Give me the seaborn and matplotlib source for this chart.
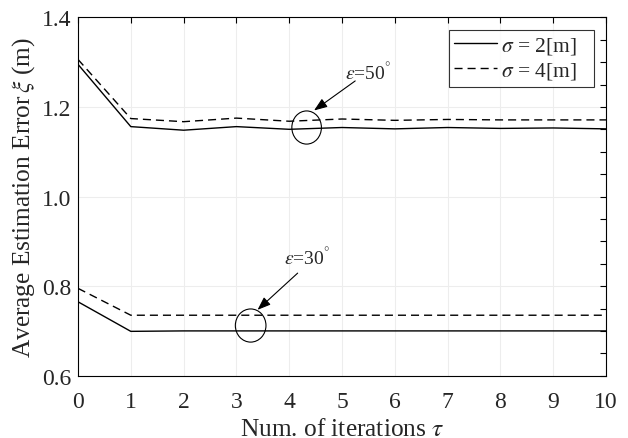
import matplotlib
matplotlib.use("Agg")
import matplotlib.pyplot as plt
from matplotlib.patches import Ellipse
from matplotlib.ticker import MultipleLocator
import numpy as np
import pandas as pd
import seaborn as sns

# Iteration index
iterations = [0, 1, 2, 3, 4, 5, 6, 7, 8, 9, 10]

# Average estimation error, epsilon = 50 deg
err_eps50_sigma2 = [1.295, 1.156, 1.148, 1.156, 1.150, 1.154, 1.151, 1.154, 1.152, 1.153, 1.151]
err_eps50_sigma4 = [1.306, 1.174, 1.167, 1.175, 1.168, 1.173, 1.170, 1.172, 1.171, 1.171, 1.171]

# Average estimation error, epsilon = 30 deg
err_eps30_sigma2 = [0.765, 0.699, 0.700, 0.700, 0.700, 0.700, 0.700, 0.700, 0.700, 0.700, 0.700]
err_eps30_sigma4 = [0.795, 0.735, 0.735, 0.735, 0.735, 0.735, 0.735, 0.735, 0.735, 0.735, 0.735]

sigma_labels = [r"$\sigma$ = 2[m]", r"$\sigma$ = 4[m]"]
x_ticks = [0, 1, 2, 3, 4, 5, 6, 7, 8, 9, 10]
y_ticks = [0.6, 0.8, 1.0, 1.2, 1.4]

sns.set_style("white")
plt.rcParams["font.family"] = ["Liberation Serif", "DejaVu Serif"]
plt.rcParams["mathtext.fontset"] = "stix"

frames = []
for eps, (s2, s4) in {"50": (err_eps50_sigma2, err_eps50_sigma4),
                      "30": (err_eps30_sigma2, err_eps30_sigma4)}.items():
    frames.append(pd.DataFrame({"iter": iterations, "err": s2, "sigma": sigma_labels[0], "eps": eps}))
    frames.append(pd.DataFrame({"iter": iterations, "err": s4, "sigma": sigma_labels[1], "eps": eps}))
df = pd.concat(frames, ignore_index=True)

fig = plt.figure(figsize=(6.28, 4.39), dpi=100)
ax = fig.add_axes([0.1242, 0.1419, 0.8408, 0.8164])

sns.lineplot(data=df, x="iter", y="err", style="sigma", units="eps",
             estimator=None, color="black", linewidth=1.0,
             dashes={sigma_labels[0]: "", sigma_labels[1]: (5.8, 3.6)},
             style_order=sigma_labels, ax=ax, legend=True)

ax.set_xlim(0, 10)
ax.set_ylim(0.6, 1.4)
ax.set_xticks(x_ticks)
ax.set_yticks(y_ticks)
ax.set_yticklabels([f"{v:.1f}" for v in y_ticks])
ax.yaxis.set_minor_locator(MultipleLocator(0.05))
ax.grid(True, which="major", color="#ededed", linewidth=0.8)
ax.tick_params(which="both", direction="in", top=True, right=True,
               labelsize=17, color="black", length=4.5, width=0.8)
ax.tick_params(axis="x", pad=11)
ax.tick_params(axis="y", pad=5)
for sp in ax.spines.values():
    sp.set_color("black")
    sp.set_linewidth(0.8)

ax.set_xlabel(r"Num. of iterations $\tau$", fontsize=18.3, labelpad=4)
ax.set_ylabel(r"Average Estimation Error$\,\xi$ (m)", fontsize=18.3, labelpad=3)

leg = ax.legend(loc="upper left", bbox_to_anchor=(0.7027, 0.8047, 0.2746, 0.1607),
                mode="expand", fontsize=15.5,
                frameon=True, fancybox=False, edgecolor="black",
                handlelength=2.0, handletextpad=0.15, borderpad=0.25,
                labelspacing=0.2, borderaxespad=0.0)
leg.get_frame().set_linewidth(0.8)
leg.set_title(None)

# Circles marking the two groups of curves
ax.add_patch(Ellipse((4.33, 1.154), 0.56, 0.074, fill=False, edgecolor="black", linewidth=0.8))
ax.add_patch(Ellipse((3.27, 0.712), 0.58, 0.074, fill=False, edgecolor="black", linewidth=0.8))

arrow = dict(arrowstyle="-|>,head_length=0.8,head_width=0.3", color="black", lw=0.8,
             shrinkA=0, shrinkB=0)
ax.text(5.49, 1.28, r"$\epsilon$=50$^{\degree}$", fontsize=14, ha="center", va="center")
ax.annotate("", xy=(4.47, 1.192), xytext=(5.25, 1.258), arrowprops=arrow)
ax.text(4.33, 0.866, r"$\epsilon$=30$^{\degree}$", fontsize=14, ha="center", va="center")
ax.annotate("", xy=(3.40, 0.747), xytext=(4.16, 0.829), arrowprops=arrow)

fig.savefig("out.png", dpi=100)
